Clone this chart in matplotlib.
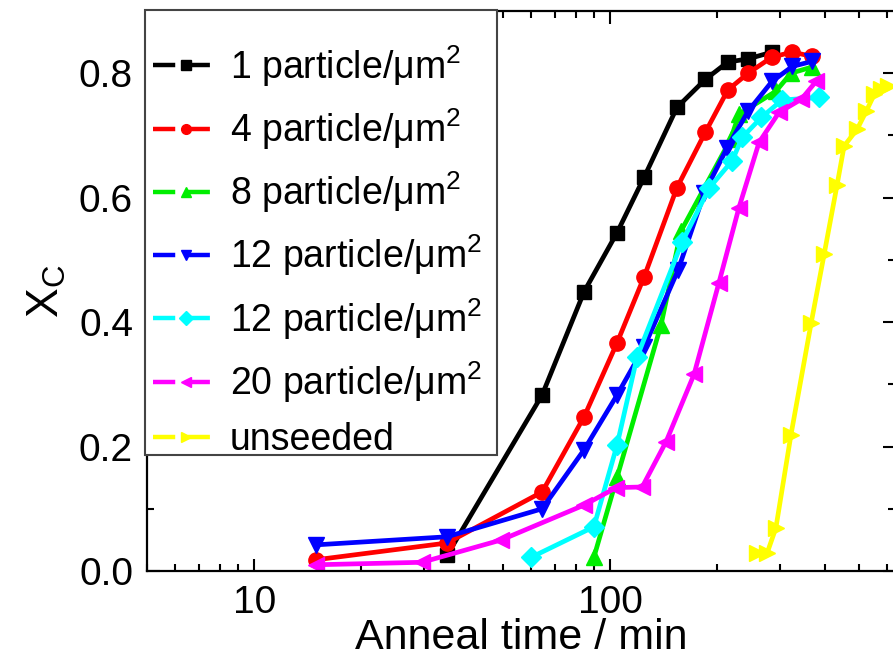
import numpy as np
import matplotlib
matplotlib.use("Agg")
import matplotlib.pyplot as plt
from matplotlib.lines import Line2D
from matplotlib.patches import Rectangle
from matplotlib.ticker import FixedLocator, NullFormatter, FormatStrFormatter

plt.rcParams['font.family'] = ['Liberation Sans', 'DejaVu Sans']
plt.rcParams['mathtext.fontset'] = 'custom'
plt.rcParams['mathtext.rm'] = 'Liberation Sans'
plt.rcParams['mathtext.it'] = 'Liberation Sans:italic'
plt.rcParams['mathtext.bf'] = 'Liberation Sans:bold'

# ---- data ----
labels = ["1 particle/μm$^{2}$", "4 particle/μm$^{2}$", "8 particle/μm$^{2}$",
          "12 particle/μm$^{2}$", "12 particle/μm$^{2}$", "20 particle/μm$^{2}$",
          "unseeded"]

t_1 = [34.8, 64.4, 84.5, 104.6, 124.6, 154, 185, 214, 244, 285]
x_1 = [0.025, 0.283, 0.449, 0.544, 0.633, 0.745, 0.790, 0.818, 0.823, 0.834]

t_4 = [14.9, 34.8, 64.4, 84.5, 104.6, 124.6, 154, 185, 214, 244, 285, 325, 369]
x_4 = [0.018, 0.045, 0.127, 0.248, 0.367, 0.473, 0.616, 0.705, 0.773, 0.800, 0.826, 0.834, 0.827]

t_8 = [90.1, 104.6, 139, 158, 218, 230, 292, 322, 369]
x_8 = [0.023, 0.151, 0.396, 0.546, 0.694, 0.734, 0.771, 0.800, 0.810]

t_12a = [14.9, 34.8, 64.4, 84.5, 104.6, 124.6, 155, 184, 213, 244, 285, 325, 369]
x_12a = [0.042, 0.055, 0.100, 0.195, 0.283, 0.360, 0.483, 0.608, 0.680, 0.739, 0.787, 0.811, 0.819]

t_12b = [60, 90, 104.6, 119, 159, 190, 220, 235, 266, 304, 387]
x_12b = [0.022, 0.071, 0.203, 0.344, 0.528, 0.616, 0.659, 0.697, 0.729, 0.757, 0.761]

t_20 = [14.9, 29.6, 49.5, 84.5, 104, 123, 143.6, 172, 202, 230, 262, 298, 344, 379]
x_20 = [0.010, 0.014, 0.050, 0.106, 0.134, 0.135, 0.208, 0.316, 0.463, 0.584, 0.689, 0.737, 0.758, 0.787]

t_un = [259, 276, 292, 322, 367, 399, 434, 454, 494, 524, 552, 577, 605]
x_un = [0.029, 0.029, 0.069, 0.219, 0.399, 0.509, 0.621, 0.683, 0.710, 0.739, 0.766, 0.775, 0.779]

series_t = [t_1, t_4, t_8, t_12a, t_12b, t_20, t_un]
series_x = [x_1, x_4, x_8, x_12a, x_12b, x_20, x_un]

colors = ["#000000", "#ff0000", "#00ee00", "#0000ff", "#00ffff", "#ff00ff", "#ffff00"]
markers = ["s", "o", "^", "v", "D", "<", ">"]
msizes = [10, 11, 12, 12, 10, 12, 12]

xticks_major = [10, 100]
yticks_major = [0.0, 0.2, 0.4, 0.6, 0.8]

# ---- figure ----
fig = plt.figure(figsize=(8.93, 6.65), dpi=100)
W, H = 893, 665
ax = fig.add_axes([147 / W, 1 - 571 / H, (895 - 147) / W, (571 - 11) / H])

for t, x, c, m, s in zip(series_t, series_x, colors, markers, msizes):
    ax.plot(t, x, color=c, lw=3.4, marker=m, ms=s, mec=c, mfc=c, solid_capstyle='round')

ax.set_xscale('log')
ax.set_xlim(5, 631)
ax.set_ylim(0, 0.9)

ax.xaxis.set_major_locator(FixedLocator(xticks_major))
ax.xaxis.set_minor_locator(FixedLocator([v * d for d in (1, 10, 100) for v in range(2, 10)]))
ax.xaxis.set_minor_formatter(NullFormatter())
ax.set_xticklabels([str(v) for v in xticks_major])
ax.yaxis.set_major_locator(FixedLocator(yticks_major))
ax.yaxis.set_minor_locator(FixedLocator([0.1, 0.3, 0.5, 0.7]))
ax.yaxis.set_major_formatter(FormatStrFormatter('%.1f'))

ax.tick_params(which='both', direction='in', top=True, right=True, width=1.5, labelsize=28)
ax.tick_params(which='major', length=9, pad=10)
ax.tick_params(which='minor', length=5)
for sp in ax.spines.values():
    sp.set_linewidth(1.6)

ax.set_xlabel("Anneal time / min", fontsize=31, labelpad=-2)
ax.set_ylabel("X$_{\\mathregular{C}}$", fontsize=32, labelpad=8)

# legend frame (drawn separately so the padding can differ per side)
frame = Rectangle((145 / W, 1 - 455 / H), (497 - 145) / W, (455 - 10) / H,
                  transform=fig.transFigure, facecolor='white', edgecolor='#444444',
                  lw=1.5, zorder=4)
fig.patches.append(frame)

handles = [Line2D([], [], color=c, lw=3.2, dashes=(5.0, 2.8), marker=m, ms=7, mec=c, mfc=c)
           for c, m in zip(colors, markers)]
leg = fig.legend(handles, labels, loc='upper left', bbox_to_anchor=(153 / W, 1 - 43 / H),
                 fontsize=27, frameon=False, handlelength=1.75, handletextpad=0.3,
                 borderpad=0, labelspacing=0.47, borderaxespad=0)
leg.set_zorder(5)

fig.savefig("out.png", dpi=100)
